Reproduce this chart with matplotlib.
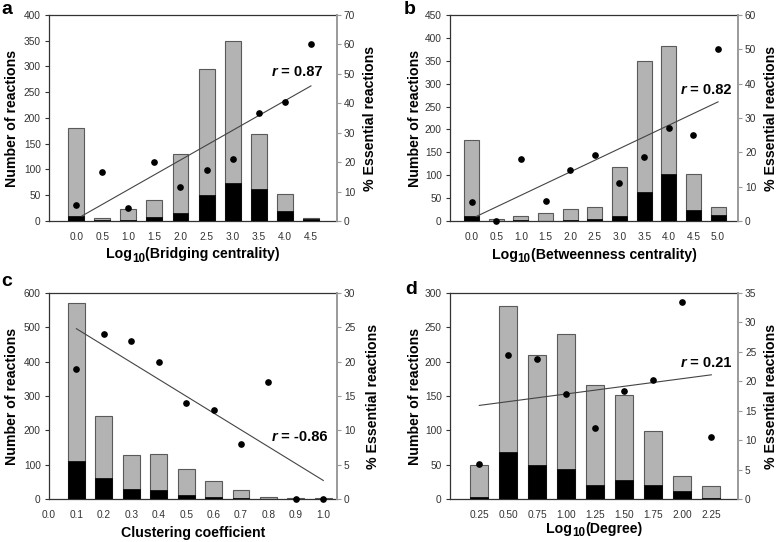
import matplotlib
matplotlib.use("Agg")
import matplotlib.pyplot as plt
import numpy as np

plt.rcParams['font.family'] = ['Liberation Sans', 'DejaVu Sans']

# ---------------- data ----------------
a_labels = ["0.0", "0.5", "1.0", "1.5", "2.0", "2.5", "3.0", "3.5", "4.0", "4.5"]
a_total = [180, 5, 23, 40, 130, 295, 350, 168, 52, 5]
a_ess = [10, 1, 1, 8, 15, 51, 74, 62, 20, 3]
a_pct = [5.5, 16.7, 4.3, 20.0, 11.5, 17.3, 21.0, 36.7, 40.4, 60.0]
a_fit_x = [0.22, 9.0]
a_fit_y = [1.7, 45.9]

b_labels = ["0.0", "0.5", "1.0", "1.5", "2.0", "2.5", "3.0", "3.5", "4.0", "4.5", "5.0"]
b_total = [178, 5, 11, 18, 27, 31, 118, 349, 382, 103, 30]
b_ess = [10, 0, 2, 0, 3, 5, 12, 64, 103, 25, 14]
b_pct = [5.5, 0.0, 18.1, 5.8, 14.8, 19.3, 11.0, 18.5, 27.2, 25.1, 50.0]
b_fit_x = [0.18, 10.0]
b_fit_y = [1.3, 34.7]

c_x = [0.1, 0.2, 0.3, 0.4, 0.5, 0.6, 0.7, 0.8, 0.9, 1.0]
c_total = [570, 243, 129, 132, 86, 52, 25, 6, 4, 3]
c_ess = [110, 60, 30, 26, 12, 7, 2, 0, 0, 0]
c_pct = [19.0, 24.0, 23.0, 20.0, 14.0, 13.0, 8.0, 17.0, 0.0, 0.0]
c_ticks = [0.0, 0.1, 0.2, 0.3, 0.4, 0.5, 0.6, 0.7, 0.8, 0.9, 1.0]
c_fit_x = [0.1, 1.0]
c_fit_y = [24.8, 2.7]

d_labels = ["0.25", "0.50", "0.75", "1.00", "1.25", "1.50", "1.75", "2.00", "2.25"]
d_total = [50, 281, 210, 241, 166, 152, 99, 33, 19]
d_ess = [3, 69, 50, 43, 20, 28, 20, 11, 2]
d_pct = [5.9, 24.5, 23.8, 17.8, 12.0, 18.3, 20.2, 33.4, 10.5]
d_fit_x = [0.0, 8.0]
d_fit_y = [15.9, 21.1]

# ---------------- style ----------------
GREY = '#b3b3b3'
EDGE = '#5a5a5a'
DARK = '#333333'
RGREY = '#9a9a9a'
TICKFS = 7.3
LABFS = 10.2

fig = plt.figure(figsize=(7.78, 5.42), dpi=100)
W, H = 778.0, 542.0
renderer = fig.canvas.get_renderer()


def make_axes(left, top, right, bottom):
    return fig.add_axes([left / W, 1 - bottom / H, (right - left) / W, (bottom - top) / H])


def compound_text(xc, yc, parts):
    """parts: list of (string, fontsize, fontstyle, dy_px). Centered at pixel (xc, yc)."""
    objs = []
    widths = []
    for s, fs, st, dy in parts:
        t = fig.text(0, 0, s, fontsize=fs, fontweight='bold', fontstyle=st,
                     ha='left', va='baseline')
        objs.append((t, dy))
        widths.append(t.get_window_extent(renderer).width)
    total = sum(widths)
    x = xc - total / 2.0
    base = yc + 4  # baseline a bit below center (pixels, from top)
    for (t, dy), w in zip(objs, widths):
        t.set_position((x / W, 1 - (base + dy) / H))
        x += w


def style(ax, ax2):
    for s in ['left', 'bottom', 'top']:
        ax.spines[s].set_color(DARK)
        ax.spines[s].set_linewidth(0.9)
    ax.spines['right'].set_visible(False)
    for s in ['left', 'bottom', 'top']:
        ax2.spines[s].set_visible(False)
    ax2.spines['right'].set_color(RGREY)
    ax2.spines['right'].set_linewidth(1.4)
    ax.tick_params(axis='y', direction='out', length=3, width=0.8, color=DARK,
                   labelsize=TICKFS, labelcolor=DARK, pad=3)
    ax.tick_params(axis='x', length=0, labelsize=TICKFS, labelcolor=DARK, pad=8)
    ax2.tick_params(axis='y', direction='out', length=3, width=0.8, color=RGREY,
                    labelsize=TICKFS, labelcolor=DARK, pad=2)


def panel(box, x, total, ess, pct, fit_x, fit_y, width, xlim, ylim, yticks,
          y2lim, y2ticks, xticks, xticklabels, xlabel_parts, rval, rpos, letter, letterpos,
          ylab_x, y2lab_x, xlab_y):
    ax = make_axes(*box)
    ax.bar(x, total, width=width, color=GREY, edgecolor=EDGE, linewidth=0.8, zorder=2)
    ax.bar(x, ess, width=width, color='black', edgecolor='black', linewidth=0.5, zorder=3)
    ax.set_xlim(*xlim)
    ax.set_ylim(*ylim)
    ax.set_yticks(yticks)
    ax.set_xticks(xticks)
    ax.set_xticklabels(xticklabels)
    ax2 = ax.twinx()
    ax2.plot(fit_x, fit_y, color='#444444', linewidth=0.8, zorder=4)
    ax2.plot(x, pct, 'o', color='black', markersize=3.8, zorder=5, clip_on=False)
    ax2.set_ylim(*y2lim)
    ax2.set_yticks(y2ticks)
    style(ax, ax2)
    l, t, r, b = box
    rx = l + rpos[0] * (r - l)
    ry = b - rpos[1] * (b - t)
    compound_text(rx, ry, [('r', 10.5, 'italic', 0), (' = ' + rval, 10.5, 'normal', 0)])
    fig.text(letterpos[0] / W, 1 - letterpos[1] / H, letter, fontsize=14, fontweight='bold',
             ha='left', va='center')
    fig.text(ylab_x / W, 1 - ((t + b) / 2) / H, 'Number of reactions', rotation=90,
             ha='center', va='center', fontsize=LABFS, fontweight='bold')
    fig.text(y2lab_x / W, 1 - ((t + b) / 2) / H, '% Essential reactions', rotation=90,
             ha='center', va='center', fontsize=LABFS, fontweight='bold')
    compound_text((l + r) / 2, xlab_y, xlabel_parts)
    return ax, ax2


def log_label(name):
    return [('Log', LABFS, 'normal', 0), ('10', LABFS * 0.82, 'normal', 3.5),
            ('(' + name + ')', LABFS, 'normal', 0)]


# panel a
panel((49, 15, 337, 221), np.arange(len(a_total)), a_total, a_ess, a_pct, a_fit_x, a_fit_y,
      0.61, (-1.04, 10.0), (0, 400), np.arange(0, 401, 50), (0, 70), np.arange(0, 71, 10),
      np.arange(len(a_labels)), a_labels, log_label('Bridging centrality'),
      '0.87', (0.861, 0.723), 'a', (1, 10), 12, 370, 254)

# panel b
panel((450, 15, 738, 221), np.arange(len(b_total)), b_total, b_ess, b_pct, b_fit_x, b_fit_y,
      0.61, (-0.88, 10.81), (0, 450), np.arange(0, 451, 50), (0, 60), np.arange(0, 61, 10),
      np.arange(len(b_labels)), b_labels, log_label('Betweenness centrality'),
      '0.82', (0.889, 0.636), 'b', (404, 10), 415, 771, 255)

# panel c
panel((49, 293, 337, 499), c_x, c_total, c_ess, c_pct, c_fit_x, c_fit_y,
      0.061, (0.0, 1.05), (0, 600), np.arange(0, 601, 100), (0, 30), np.arange(0, 31, 5),
      c_ticks, ["%.1f" % v for v in c_ticks], [('Clustering coefficient', LABFS, 'normal', 0)],
      '-0.86', (0.871, 0.301), 'c', (1, 282), 12, 373, 533)

# panel d
panel((450, 293, 738, 499), np.arange(len(d_total)), d_total, d_ess, d_pct, d_fit_x, d_fit_y,
      0.62, (-1.01, 8.92), (0, 300), np.arange(0, 301, 50), (0, 35), np.arange(0, 36, 5),
      np.arange(len(d_labels)), d_labels, log_label('Degree'),
      '0.21', (0.889, 0.660), 'd', (405, 289), 415, 771, 529)

fig.savefig('out.png', dpi=100)
